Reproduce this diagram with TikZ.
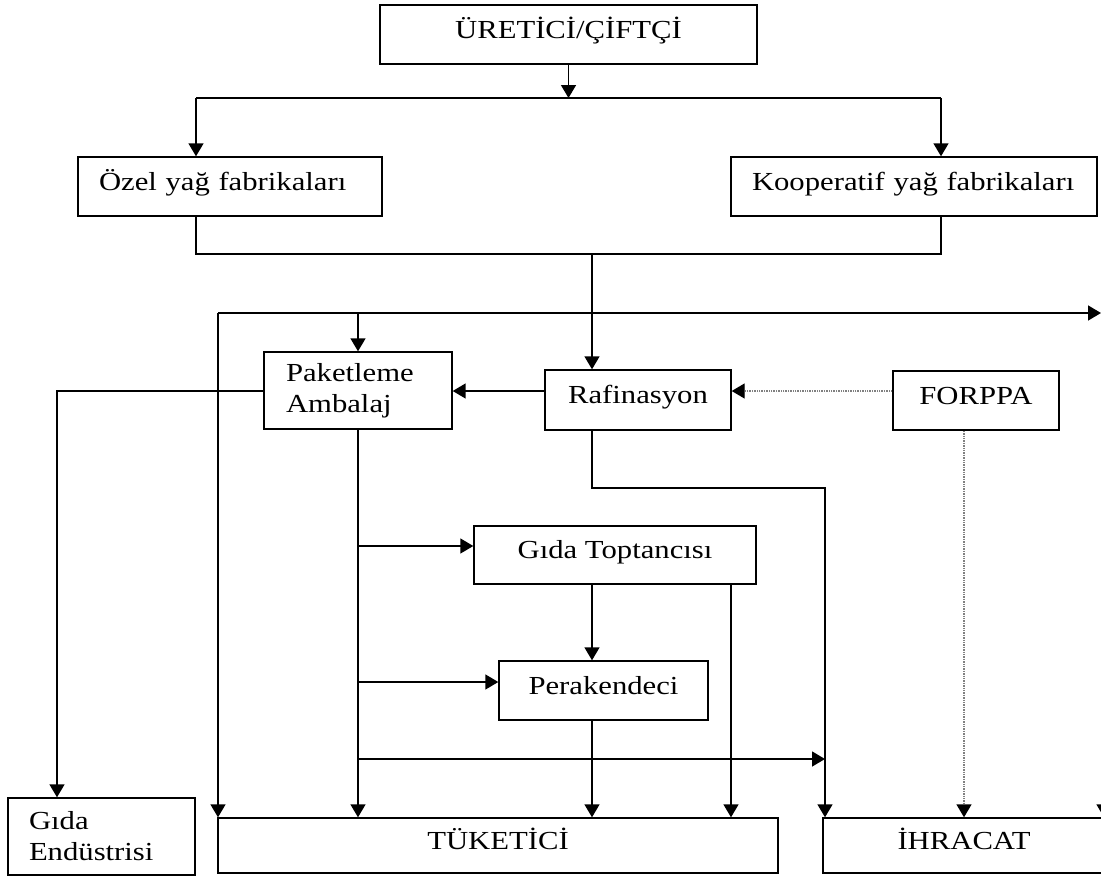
\documentclass[tikz,border=0pt]{standalone}
\usepackage{fontspec}
\setmainfont{Liberation Serif}[FakeStretch=1.18]
\usetikzlibrary{arrows.meta}
\begin{document}
\begin{tikzpicture}[x=1pt,y=-1pt,
  box/.style={draw, line width=1.4pt, font=\fontsize{26}{31}\selectfont, inner xsep=0pt, inner ysep=0pt, align=center},
  sbox/.style={box, text height=20pt, text depth=13pt},
  lbox/.style={box, align=left, inner xsep=21pt},
  ln/.style={line width=1.5pt},
  arr/.style={ln, -{Triangle[length=13pt,width=15pt]}},
  dotarr/.style={line width=1.4pt, gray, densely dotted, -{Triangle[length=13pt,width=15pt,color=black]}}
]
\useasboundingbox (0,0) rectangle (1101,878);
\fill[white] (0,0) rectangle (1101,878);

% nodes
\node[sbox, minimum width=377pt, minimum height=59pt] (ur) at (568.5,34.5) {ÜRETİCİ/ÇİFTÇİ};
\node[lbox, text height=20pt, text depth=13pt, text width=262pt, minimum height=59pt] (oz) at (230,186.5) {Özel yağ fabrikaları};
\node[lbox, text height=20pt, text depth=13pt, text width=324pt, minimum height=59pt] (ko) at (914,186.5) {Kooperatif yağ fabrikaları};
\node[lbox, inner xsep=22pt, text width=144pt, minimum height=77pt] (pa) at (358,390.5) {Paketleme\\Ambalaj};
\node[sbox, minimum width=186pt, minimum height=60pt] (ra) at (638,400) {Rafinasyon};
\node[sbox, minimum width=166pt, minimum height=59pt] (fo) at (976,400.5) {FORPPA};
\node[sbox, minimum width=282pt, minimum height=58pt] (gt) at (615,555) {Gıda Toptancısı};
\node[sbox, minimum width=209pt, minimum height=59pt] (pe) at (603.5,690.5) {Perakendeci};
\node[lbox, text width=145pt, minimum height=77pt] (ge) at (101.5,836.5) {Gıda\\Endüstrisi};
\node[sbox, minimum width=560pt, minimum height=55pt] (tu) at (498,845.5) {TÜKETİCİ};
\node[sbox, minimum width=282pt, minimum height=55pt] (ih) at (964,845.5) {İHRACAT};

% helper coordinates
\coordinate (a1) at (196,98);
\coordinate (a2) at (941,98);
\coordinate (b1) at (196,254);
\coordinate (b2) at (941,254);
\coordinate (b3) at (592,254);
\coordinate (c1) at (218,313);
\coordinate (c2) at (1101,313);
\coordinate (c3) at (1104,760);
\coordinate (d) at (0,391);
\coordinate (e1) at (57,391);
\coordinate (f1) at (358,546);
\coordinate (f2) at (358,682);
\coordinate (f3) at (358,759);
\coordinate (g1) at (592,488);
\coordinate (g2) at (825,488);
\coordinate (h1) at (731,600);
\coordinate (k1) at (964,500);

% top part
\draw[arr] (ur) -- (ur |- a1);
\draw[ln] (a1) -- (a2);
\draw[arr] (a1) -- (a1 |- oz.north);
\draw[arr] (a2) -- (a2 |- ko.north);
\draw[ln] (b1 |- oz.south) -- (b1) -- (b2) -- (b2 |- ko.south);
\draw[arr] (b3) -- (b3 |- ra.north);

% distribution line
\draw[arr] (c1) -- (c2);
\draw[arr] (c1) -- (c1 |- tu.north);
\draw[arr] (pa.north |- c1) -- (pa.north);
\draw[arr] (c3) -- (c3 |- ih.north);

% middle
\draw[arr] (ra.west |- d) -- (pa.east |- d);
\draw[dotarr] (fo.west |- d) -- (ra.east |- d);
\draw[arr] (pa.west |- e1) -- (e1) -- (e1 |- ge.north);
\draw[arr] (pa) -- (pa |- tu.north);
\draw[arr] (f1) -- (gt.west |- f1);
\draw[arr] (f2) -- (pe.west |- f2);
\draw[arr] (f3) -- (g2 |- f3);
\draw[arr] (g1 |- ra.south) -- (g1) -- (g2) -- (g2 |- ih.north);
\draw[arr] (g1 |- gt.south) -- (g1 |- pe.north);
\draw[arr] (h1 |- gt.south) -- (h1 |- tu.north);
\draw[arr] (g1 |- pe.south) -- (g1 |- tu.north);
\draw[dotarr] (k1 |- fo.south) -- (k1 |- ih.north);
\end{tikzpicture}
\end{document}
